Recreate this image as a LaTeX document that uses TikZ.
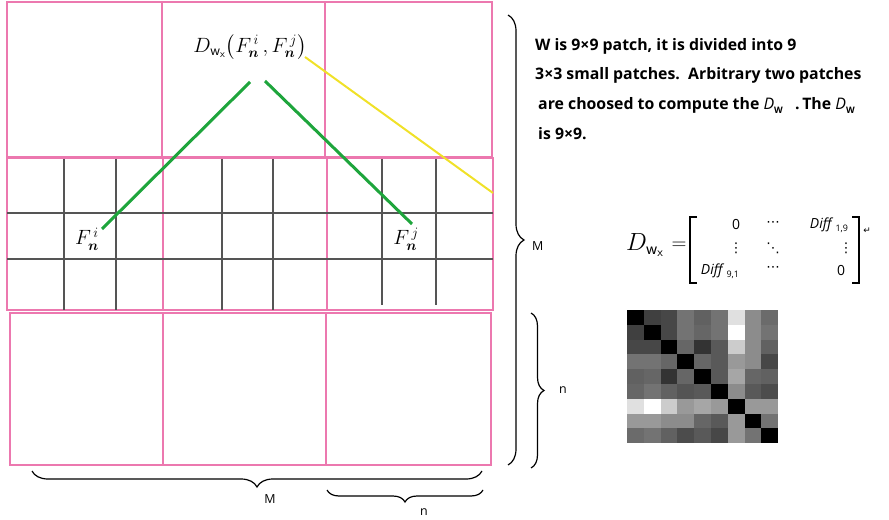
\documentclass[tikz,border=0pt]{standalone}
\usepackage{amsmath}
\usepackage{bm}
\usepackage{fontspec}
\setmainfont{Open Sans}
\newfontfamily\symfont{DejaVu Sans}
\usetikzlibrary{decorations.pathreplacing}
\definecolor{pinkline}{RGB}{236,120,175}
\definecolor{gridgray}{RGB}{85,85,85}
\definecolor{greenline}{RGB}{30,165,60}
\definecolor{yellowline}{RGB}{240,225,40}
\newcommand{\Dsub}{\textit{\mdseries\fontsize{16}{18}\selectfont D}\raisebox{-0.35ex}{\small W}}
\newcommand{\Diffsub}[1]{\textit{Diff}\,\raisebox{-0.45ex}{\small #1}}
\begin{document}
\begin{tikzpicture}[x=1bp,y=-1bp,
  patch/.style={draw=pinkline,line width=1.3bp},
  gridln/.style={draw=gridgray,line width=1.3bp},
  greenln/.style={draw=greenline,line width=3bp},
  yellowln/.style={draw=yellowline,line width=2bp},
  bracel/.style={draw=black,line width=1.2bp,decorate},
  desc/.style={anchor=base west,inner sep=0pt,font=\fontsize{15.9}{18}\selectfont\bfseries},
  lbl/.style={inner sep=0pt,font=\fontsize{12.5}{14}\selectfont},
  ent/.style={inner sep=0pt,font=\fontsize{14}{16}\selectfont},
  dots/.style={inner sep=0pt,font=\symfont\fontsize{13.5}{14}\selectfont}
]
\useasboundingbox (0,0) rectangle (889,520);
% pink patches
\draw[patch] (7,2) rectangle (162,157);
\draw[patch] (162,2) rectangle (325,157);
\draw[patch] (325,2) rectangle (492,157);
\draw[patch] (7,158) rectangle (163,310);
\draw[patch] (163,158) rectangle (327,310);
\draw[patch] (327,158) rectangle (493,310);
\draw[patch] (10,313) rectangle (163,465);
\draw[patch] (163,313) rectangle (326,465);
\draw[patch] (326,313) rectangle (491,465);
% gray grid in middle row
\draw[gridln] (7,213) -- (493,213);
\draw[gridln] (7,259) -- (493,259);
\foreach \x in {64,116,222,273} \draw[gridln] (\x,159) -- (\x,310);
\foreach \x in {382,436} \draw[gridln] (\x,159) -- (\x,305);
% formula
\node[inner sep=0pt,font=\fontsize{21}{24}\selectfont] (dw) at (250,47)
  {$D_{\mathsf{w}_{\mathsf{x}}}\bigl(F_{\bm n}^{\,i}\,,F_{\bm n}^{\,j}\bigr)$};
\node[inner sep=0pt,font=\fontsize{20}{23}\selectfont] (fi) at (87,239) {$F_{\bm n}^{\,i}$};
\node[inner sep=0pt,font=\fontsize{20}{23}\selectfont] (fj) at (406,239) {$F_{\bm n}^{\,j}$};
\coordinate (gl) at (250,82);
\coordinate (gr) at (265,81);
\coordinate (fie) at (102,229);
\coordinate (fje) at (412,224);
\coordinate (ys) at (305,57);
\coordinate (ye) at (493,193);
\draw[greenln] (gl) -- (fie);
\draw[greenln] (gr) -- (fje);
\draw[yellowln] (ys) -- (ye);
% braces
\coordinate (rmt) at (508,15);
\coordinate (rmb) at (508,465);
\draw[bracel,decoration={brace,amplitude=16bp}] (rmt) -- (rmb);
\node[lbl,anchor=west] (mr) at (532,246) {M};
\coordinate (rnt) at (531,313);
\coordinate (rnb) at (531,468);
\draw[bracel,decoration={brace,amplitude=13bp}] (rnt) -- (rnb);
\node[lbl,anchor=west] (nr) at (559,390) {n};
\coordinate (bml) at (32,471);
\coordinate (bmr) at (482,471);
\draw[bracel,decoration={brace,mirror,amplitude=16bp}] (bml) -- (bmr);
\node[lbl] (mb) at (270,499) {M};
\coordinate (bnl) at (327,490);
\coordinate (bnr) at (483,490);
\draw[bracel,decoration={brace,mirror,amplitude=12bp}] (bnl) -- (bnr);
\node[lbl] (nb) at (424,512) {n};
% description
\node[desc] (t1) at (535,51) {W is 9×9 patch, it is divided into 9};
\node[desc] (t2) at (535,80) {3×3 small patches.\ \ Arbitrary two patches};
\node[desc] (t3) at (538,110) {are choosed to compute the \Dsub\ \ \ .\,The \Dsub};
\node[desc] (t4) at (538,140) {is 9×9.};
% matrix formula
\node[inner sep=0pt,font=\fontsize{25}{28}\selectfont] (dwx) at (645,245) {$D_{\mathsf{w}_{\mathsf{x}}}$};
\node[inner sep=0pt,font=\fontsize{20}{22}\selectfont] (eq) at (679,246) {$=$};
\draw[line width=1.5bp] (697,217) -- (690,217) -- (690,283) -- (697,283);
\draw[line width=1.5bp] (852,217) -- (859,217) -- (859,283) -- (852,283);
\node[ent] (a11) at (736,225) {0};
\node[dots] (a12) at (773,224) {⋯};
\node[ent] (a13) at (829,225) {\Diffsub{1,9}};
\node[dots] (a21) at (736,248) {⋮};
\node[dots] (a22) at (773,248) {⋱};
\node[dots] (a23) at (846,248) {⋮};
\node[ent] (a31) at (720,271) {\Diffsub{9,1}};
\node[dots] (a32) at (773,269) {⋯};
\node[ent] (a33) at (841,271) {0};
\node[inner sep=0pt,font=\symfont\fontsize{9}{10}\selectfont] (ret) at (867,231) {↵};
% grayscale matrix
\foreach \rowv [count=\r] in {
 {100,75,72,55,62,55,12,45,58},
 {75,100,72,55,60,55,0,45,55},
 {72,72,100,60,80,65,20,45,62},
 {55,55,60,100,60,65,40,45,72},
 {62,60,80,60,100,65,35,60,62},
 {60,55,62,67,65,100,45,65,70},
 {12,0,20,40,35,40,100,40,40},
 {40,40,45,45,60,65,40,100,55},
 {58,55,62,70,65,72,40,55,100}} {
  \foreach \v [count=\c] in \rowv {
    \fill[black!\v] ({627+(\c-1)*16.8},{310+(\r-1)*14.8}) rectangle ++(16.8,14.8);
  }
}
\end{tikzpicture}
\end{document}
